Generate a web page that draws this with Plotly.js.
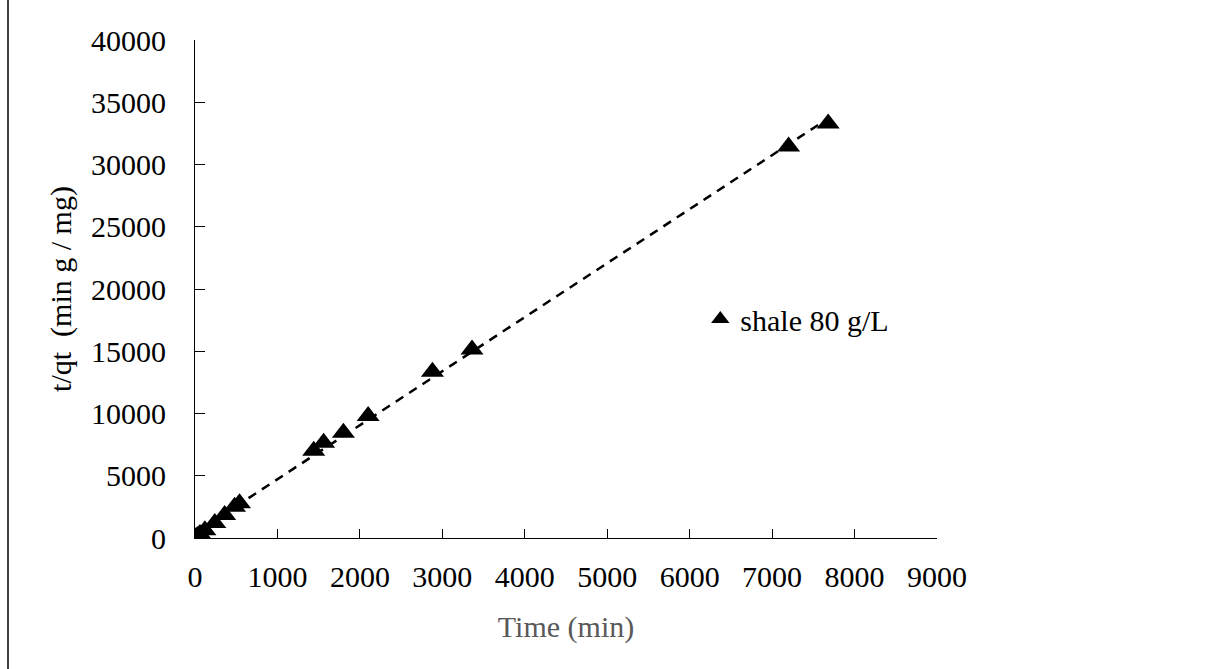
<!DOCTYPE html>
<html>
<head>
<meta charset="utf-8">
<script src="https://cdn.plot.ly/plotly-3.0.1.min.js"></script>
<style>
  html, body { margin: 0; padding: 0; background: #ffffff; }
  #chart { width: 1215px; height: 669px; }
</style>
</head>
<body>
<div id="chart"></div>
<script>
// Data
const timeMin = [10, 30, 60, 120, 240, 360, 480, 540, 1440, 1560, 1800, 2100, 2880, 3360, 7200, 7680];
const tOverQt = [60, 170, 330, 620, 1200, 1850, 2500, 2800, 7000, 7650, 8450, 9800, 13350, 15150, 31450, 33300];
const seriesName = 'shale 80 g/L';
const xTickVals = [0, 1000, 2000, 3000, 4000, 5000, 6000, 7000, 8000, 9000];
const yTickVals = [0, 5000, 10000, 15000, 20000, 25000, 30000, 35000, 40000];

// Linear trend line (least squares) computed from the data
const n = timeMin.length;
const mx = timeMin.reduce((a, b) => a + b, 0) / n;
const my = tOverQt.reduce((a, b) => a + b, 0) / n;
let sxy = 0, sxx = 0;
for (let i = 0; i < n; i++) { sxy += (timeMin[i] - mx) * (tOverQt[i] - my); sxx += (timeMin[i] - mx) ** 2; }
const slope = sxy / sxx;
const intercept = my - slope * mx;
const trendX = [0, Math.max(...timeMin)];
const trendY = trendX.map(x => intercept + slope * x);

const FONT = '"Liberation Serif", "Times New Roman", serif';

const traces = [
  {
    x: trendX, y: trendY, mode: 'lines', type: 'scatter',
    line: { color: '#000000', width: 2.5, dash: '9px,7px' },
    showlegend: false, hoverinfo: 'skip'
  },
  {
    x: timeMin, y: tOverQt, mode: 'markers', type: 'scatter', name: seriesName,
    marker: { symbol: 'triangle-up', size: 20, color: '#000000' }
  }
];

const layout = {
  width: 1215, height: 669,
  paper_bgcolor: '#ffffff', plot_bgcolor: '#ffffff',
  margin: { l: 195, r: 278, t: 40, b: 131, pad: 0 },
  font: { family: FONT, size: 30, color: '#000000' },
  showlegend: true,
  legend: {
    x: 0.681, y: 0.44, xanchor: 'left', yanchor: 'middle',
    bgcolor: 'rgba(0,0,0,0)', borderwidth: 0,
    font: { family: FONT, size: 30, color: '#000000' },
    itemwidth: 30
  },
  xaxis: {
    range: [0, 9000], tickvals: xTickVals, ticktext: xTickVals.map(String),
    ticks: 'inside', ticklen: 9, tickwidth: 1, tickcolor: '#000000',
    showline: true, linecolor: '#000000', linewidth: 1,
    showgrid: false, zeroline: false,
    tickfont: { family: FONT, size: 30, color: '#000000' },
    ticklabelstandoff: 12,
    title: { text: 'Time (min)', font: { family: FONT, size: 30, color: '#595959' }, standoff: 23 },
    automargin: false
  },
  yaxis: {
    range: [0, 40000], tickvals: yTickVals, ticktext: yTickVals.map(String),
    ticks: 'inside', ticklen: 10, tickwidth: 1, tickcolor: '#000000',
    showline: true, linecolor: '#000000', linewidth: 1,
    showgrid: false, zeroline: false,
    tickfont: { family: FONT, size: 30, color: '#000000' },
    ticklabelstandoff: 22,
    title: { text: 't/qt&nbsp;&nbsp;(min g / mg)', font: { family: FONT, size: 30, color: '#000000' }, standoff: 10 },
    automargin: false
  },
  shapes: [
    { type: 'line', xref: 'paper', yref: 'paper', x0: -187/742, x1: -187/742, y0: -131/498, y1: 1 + 40/498,
      line: { color: '#000000', width: 1.5 } }
  ]
};

Plotly.newPlot('chart', traces, layout, { displayModeBar: false, staticPlot: true });
</script>
</body>
</html>
